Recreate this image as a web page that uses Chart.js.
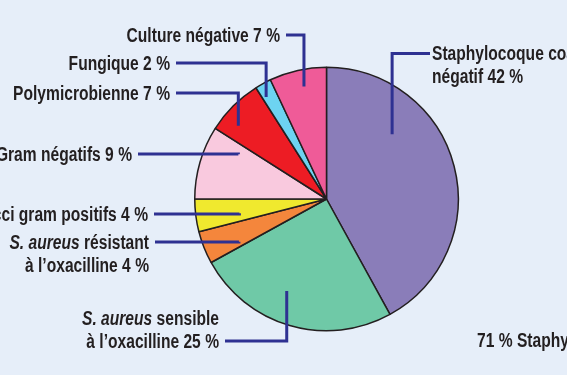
<!DOCTYPE html>
<html>
<head>
<meta charset="utf-8">
<script src="https://cdn.jsdelivr.net/npm/chart.js@4.4.0/dist/chart.umd.min.js"></script>
<style>
  html, body { margin: 0; padding: 0; background: #e6eef9; }
  canvas { display: block; }
</style>
</head>
<body>
<canvas id="pie" width="567" height="375"></canvas>
<script>
const categories = [
  'Staphylocoque coagulase négatif',
  'S. aureus sensible à l’oxacilline',
  'S. aureus résistant à l’oxacilline',
  'Autres cocci gram positifs',
  'Bacilles Gram négatifs',
  'Polymicrobienne',
  'Fungique',
  'Culture négative'
]
const values = [42, 25, 4, 4, 9, 7, 2, 7]
const sliceColors = ['#8a7db9', '#6fc9a7', '#f4863c', '#f0e92e', '#f9c9de', '#ed1c24', '#6dd3f1', '#ef5b98']

// label text per slice: *...* is italic, {v} is the value
const labelLines = [
  ['Staphylocoque coagulase', 'négatif {v} %'],
  ['*S. aureus* sensible', 'à l’oxacilline {v} %'],
  ['*S. aureus* résistant', 'à l’oxacilline {v} %'],
  ['Autres cocci gram positifs {v} %'],
  ['Bacilles Gram négatifs {v} %'],
  ['Polymicrobienne {v} %'],
  ['Fungique {v} %'],
  ['Culture négative {v} %']
]
const footNote = '71 % Staphylocoques'

// where each label sits; frac/rf place the leader end inside the slice
const labelPos = [
  { x: 432, y: 55, align: 'left', lead: 0, frac: 0.30, rf: 0.70 },
  { x: 219, y: 319.5, align: 'right', lead: 1, frac: 0.58, rf: 0.76 },
  { x: 149, y: 243.5, align: 'right', lead: 0, frac: 0.19, rf: 0.74 },
  { x: 148, y: 215.5, align: 'right', lead: 0, frac: 0.35, rf: 0.67 },
  { x: 132, y: 155.5, align: 'right', lead: 0, frac: 0.83, rf: 0.75 },
  { x: 170, y: 94.5, align: 'right', lead: 0, frac: 0.29, rf: 0.87 },
  { x: 170, y: 64.5, align: 'right', lead: 0, frac: 0.25, rf: 0.90 },
  { x: 280, y: 36.5, align: 'right', lead: 0, frac: 0.55, rf: 0.87 }
]

const FAMILY = '"Liberation Sans", Arial, sans-serif'
const SX = 0.80   // squeeze to get a condensed look
const lineHeight = 23

function drawRich(ctx, text, x, y, align) {
  const parts = text.split('*').map((t, k) => ({ t, it: k % 2 === 1 })).filter(s => s.t)
  const font = s => (s.it ? 'italic ' : '') + 'bold 19.5px ' + FAMILY
  let w = 0
  parts.forEach(s => { ctx.font = font(s); s.w = ctx.measureText(s.t).width; w += s.w })
  ctx.save()
  ctx.translate(align === 'right' ? x - w * SX : x, y)
  ctx.scale(SX, 1)
  ctx.textAlign = 'left'
  ctx.textBaseline = 'middle'
  ctx.fillStyle = '#231f20'
  let cx = 0
  parts.forEach(s => { ctx.font = font(s); ctx.fillText(s.t, cx, 0); cx += s.w })
  ctx.restore()
}

const leaders = {
  id: 'leaders',
  afterDatasetsDraw(chart) {
    const ctx = chart.ctx
    const arcs = chart.getDatasetMeta(0).data
    ctx.save()
    labelPos.forEach((p, i) => {
      const arc = arcs[i]
      const a = arc.startAngle + p.frac * (arc.endAngle - arc.startAngle)
      const r = p.rf * arc.outerRadius
      const ax = arc.x + r * Math.cos(a)
      const ay = arc.y + r * Math.sin(a)
      const lineY = p.y + p.lead * lineHeight - 1.5
      const sx = p.align === 'right' ? p.x + 6 : p.x - 2

      ctx.beginPath()
      ctx.moveTo(sx, lineY)
      ctx.lineTo(ax, lineY)
      ctx.lineTo(ax, ay)
      ctx.lineWidth = 3
      ctx.lineJoin = 'miter'
      ctx.lineCap = 'butt'
      ctx.strokeStyle = '#2e3192'
      ctx.stroke()

      labelLines[i].forEach((ln, k) => {
        drawRich(ctx, ln.replace('{v}', values[i]), p.x, p.y + k * lineHeight, p.align)
      })
    })
    drawRich(ctx, footNote, 477, 342, 'left')
    ctx.restore()
  }
}

new Chart(document.getElementById('pie'), {
  type: 'pie',
  data: {
    labels: categories,
    datasets: [{
      data: values,
      backgroundColor: sliceColors,
      borderColor: '#231f20',
      borderWidth: 1.5,
      hoverOffset: 0
    }]
  },
  options: {
    responsive: false,
    animation: false,
    devicePixelRatio: 1,
    layout: { padding: { left: 194, right: 108, top: 66, bottom: 43 } },
    plugins: {
      legend: { display: false },
      tooltip: { enabled: false }
    }
  },
  plugins: [leaders]
})
</script>
</body>
</html>
